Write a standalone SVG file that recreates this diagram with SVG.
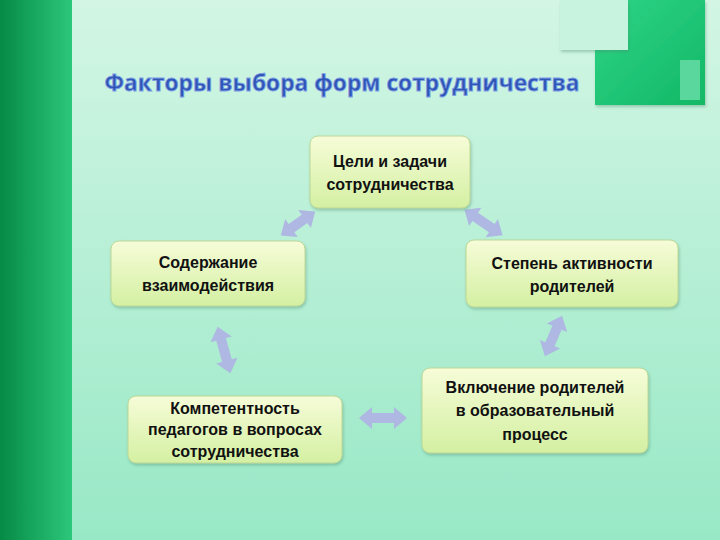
<svg xmlns="http://www.w3.org/2000/svg" width="720" height="540" viewBox="0 0 720 540">
<defs>
<linearGradient id="bg" x1="0" y1="0" x2="0" y2="1"><stop offset="0" stop-color="#d3f6e4"/><stop offset="1" stop-color="#98e8c6"/></linearGradient>
<linearGradient id="bar" x1="0" y1="0" x2="1" y2="0"><stop offset="0" stop-color="#068a45"/><stop offset="1" stop-color="#2cc77a"/></linearGradient>
<linearGradient id="tr" x1="0" y1="0" x2="1" y2="1"><stop offset="0" stop-color="#2ed486"/><stop offset="1" stop-color="#12b865"/></linearGradient>
<linearGradient id="nd" x1="0" y1="0" x2="0" y2="1"><stop offset="0" stop-color="#f6fcd8"/><stop offset="1" stop-color="#d4f0a2"/></linearGradient>
<filter id="sh" x="-10%" y="-10%" width="130%" height="140%"><feDropShadow dx="1" dy="2" stdDeviation="1.5" flood-color="#4a8a6a" flood-opacity="0.4"/></filter>
<style>
.node rect{fill:url(#nd);stroke:#bcd896;stroke-width:1;filter:url(#sh)}
.node text{font-family:"Liberation Sans",Arial,sans-serif;font-weight:bold;font-size:16px;fill:#111;text-anchor:middle}
.arr{fill:#aeb8e2}
.title{font-family:"Open Sans","DejaVu Sans",sans-serif;font-weight:bold;font-size:23px;fill:#2f55b5;stroke:#7fa0e6;stroke-width:0.8}
</style>
</defs>
<rect width="720" height="540" fill="url(#bg)"/>
<rect x="0" y="0" width="72" height="540" fill="url(#bar)"/>
<rect x="595" y="0" width="110" height="105" fill="url(#tr)" filter="url(#sh)"/>
<rect x="680" y="60" width="20" height="40" fill="#5ad79c"/>
<rect x="560" y="0" width="68" height="50" fill="#c8f3df" filter="url(#sh)"/>
<text class="title" x="342" y="91" text-anchor="middle" textLength="475" lengthAdjust="spacingAndGlyphs">Факторы выбора форм сотрудничества</text>
<g id="connectors">
<path class="arr" transform="translate(298,223.5) rotate(-34.9)" d="M-21 0L-8-11L-8-5L8-5L8-11L21 0L8 11L8 5L-8 5L-8 11Z"/>
<path class="arr" transform="translate(483.5,222.5) rotate(34)" d="M-23 0L-10-11L-10-5L10-5L10-11L23 0L10 11L10 5L-10 5L-10 11Z"/>
<path class="arr" transform="translate(553.5,336) rotate(113)" d="M-22 0L-9-11L-9-5L9-5L9-11L22 0L9 11L9 5L-9 5L-9 11Z"/>
<path class="arr" transform="translate(383,418)" d="M-24 0L-11-11L-11-5L11-5L11-11L24 0L11 11L11 5L-11 5L-11 11Z"/>
<path class="arr" transform="translate(224,350) rotate(74.7)" d="M-24 0L-11-11L-11-5L11-5L11-11L24 0L11 11L11 5L-11 5L-11 11Z"/>
</g>
<g id="n1" class="node"><rect x="310" y="136" width="160" height="72" rx="8"/><text x="390" y="167">Цели и задачи</text><text x="390" y="190">сотрудничества</text></g>
<g id="n2" class="node"><rect x="466" y="240" width="212" height="67" rx="8"/><text x="572" y="269">Степень активности</text><text x="572" y="292">родителей</text></g>
<g id="n3" class="node"><rect x="422" y="368" width="226" height="85" rx="8"/><text x="535" y="393">Включение родителей</text><text x="535" y="416">в образовательный</text><text x="535" y="440">процесс</text></g>
<g id="n4" class="node"><rect x="128" y="396" width="214" height="67" rx="8"/><text x="235" y="414">Компетентность</text><text x="235" y="435">педагогов в вопросах</text><text x="235" y="457">сотрудничества</text></g>
<g id="n5" class="node"><rect x="111" y="241" width="194" height="65" rx="8"/><text x="208" y="268">Содержание</text><text x="208" y="291">взаимодействия</text></g>
</svg>
